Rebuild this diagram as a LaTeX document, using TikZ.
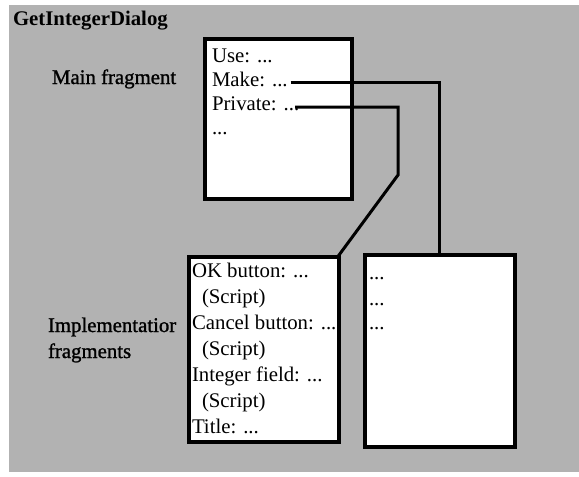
\documentclass[tikz,border=0pt]{standalone}
\usepackage{fontspec}
\setmainfont{Liberation Serif}
\newfontfamily\heavyserif[FakeBold=1.2]{Liberation Serif}
\begin{document}
\begin{tikzpicture}[x=1pt,y=-1pt,
  every node/.style={inner sep=0pt,outer sep=0pt,font=\fontsize{20.8}{26}\selectfont},
  fragbox/.style={draw=black,fill=white,line width=3.5pt,rectangle,anchor=north west},
  entry/.style={anchor=base west},
  label/.style={anchor=base west,font=\fontsize{20.8}{26}\heavyserif},
  wire/.style={draw=black,line width=3pt}]
  \useasboundingbox (0,0) rectangle (579,477);
  % halftone-grey backdrop
  \fill[black!30] (9,5) rectangle (579,472);

  % labels on the backdrop
  \node[anchor=base west,font=\fontsize{20.8}{26}\selectfont\bfseries] (title) at (13,25) {GetIntegerDialog};
  \node[label] (mainlbl) at (52,84) {Main fragment};
  \node[label] (impl1) at (48,332) {Implementatior};
  \node[label] (impl2) at (48,358) {fragments};

  % main fragment
  \node[fragbox,minimum width=147pt,minimum height=160pt] (mbox) at (204.75,38.75) {};
  \node[entry] (use)  at (212,62)  {Use: ...};
  \node[entry] (make) at (212,86)  {Make: ...};
  \node[entry] (priv) at (212,110) {Private: ...};
  \node[entry] (mmore) at (212,134) {...};

  % implementation fragments
  \node[fragbox,minimum width=150pt,minimum height=185pt] (lbox) at (188.75,256.75) {};
  \node[entry] (ok)   at (192,277) {OK button: ...};
  \node[entry] (oks)  at (202,303) {(Script)};
  \node[entry] (cnl)  at (192,329) {Cancel button: ...};
  \node[entry] (cnls) at (202,355) {(Script)};
  \node[entry] (intf) at (192,381) {Integer field: ...};
  \node[entry] (ints) at (202,407) {(Script)};
  \node[entry] (ttl)  at (192,433) {Title: ...};

  \node[fragbox,minimum width=150pt,minimum height=192pt] (rbox) at (364.75,254.75) {};
  \node[entry] (r1) at (369,279) {...};
  \node[entry] (r2) at (369,305) {...};
  \node[entry] (r3) at (369,329) {...};

  % connectors
  \coordinate (pbend) at (398,175);
  \draw[wire] ([xshift=3pt,yshift=4pt]make.base east) -| (rbox.north);
  \draw[wire] ([xshift=-4pt,yshift=3pt]priv.base east) -| (pbend) -- ([xshift=-1pt]lbox.north east);
\end{tikzpicture}
\end{document}
